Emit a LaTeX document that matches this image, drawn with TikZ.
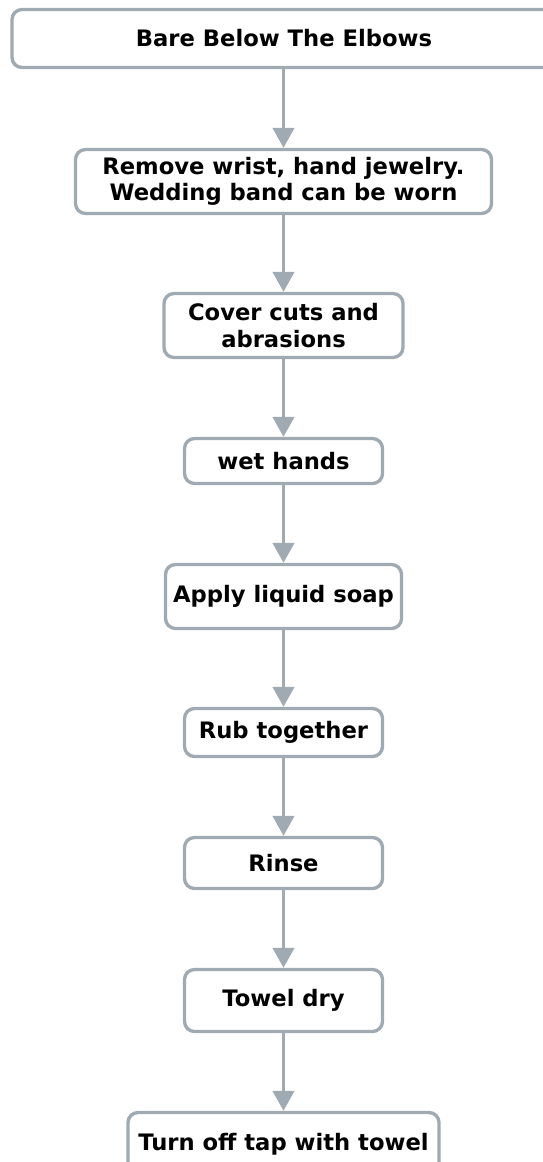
\documentclass[tikz,border=0pt]{standalone}
\usepackage{fontspec}
\setmainfont{DejaVu Sans}
\usetikzlibrary{arrows.meta,positioning}
\definecolor{edgegray}{RGB}{160,170,178}
\tikzset{
  stepbox/.style = {draw=edgegray, line width=2.5pt, rounded corners=7.5pt,
                    fill=white, align=center, inner sep=0pt,
                    font=\bfseries\fontsize{17}{20}\selectfont},
  ar/.style      = {-{Triangle[length=15pt,width=16pt]}, draw=edgegray,
                    line width=2.5pt}
}

\begin{document}
\begin{tikzpicture}[x=0.75pt, y=-0.75pt]
\useasboundingbox (0,0) rectangle (542,1162);
% ---------------- steps ----------------
\node[stepbox, minimum width=408pt, minimum height=43.5pt] (bare) at (284,38.5)
      {Bare Below The Elbows};
\node[stepbox, minimum width=312pt, minimum height=48pt] (jewel) at (283.5,181.5)
      {Remove wrist, hand jewelry.\\ Wedding band can be worn};
\node[stepbox, minimum width=179.25pt, minimum height=48pt] (cuts) at (283.5,325.5)
      {Cover cuts and\\ abrasions};
\node[stepbox, minimum width=148.5pt, minimum height=33.75pt] (wet) at (283.5,461)
      {wet hands};
\node[stepbox, minimum width=177pt, minimum height=48pt] (soap) at (283.5,596.5)
      {Apply liquid soap};
\node[stepbox, minimum width=148.5pt, minimum height=36pt] (rub) at (283.5,732.5)
      {Rub together};
\node[stepbox, minimum width=148.5pt, minimum height=38.25pt] (rinse) at (283.5,863)
      {Rinse};
\node[stepbox, minimum width=148.5pt, minimum height=46.5pt] (dry) at (283.5,1000.5)
      {Towel dry};
\node[stepbox, minimum width=233.25pt, minimum height=48pt] (tap) at (283.5,1144.5)
      {Turn off tap with towel};

% ---------------- edges ----------------
\draw[ar] (bare.south -| jewel.north) -- (jewel);
\draw[ar] (jewel) -- (cuts);
\draw[ar] (cuts) -- (wet);
\draw[ar] (wet) -- (soap);
\draw[ar] (soap) -- (rub);
\draw[ar] (rub) -- (rinse);
\draw[ar] (rinse) -- (dry);
\draw[ar] (dry) -- (tap);

\end{tikzpicture}
\end{document}
